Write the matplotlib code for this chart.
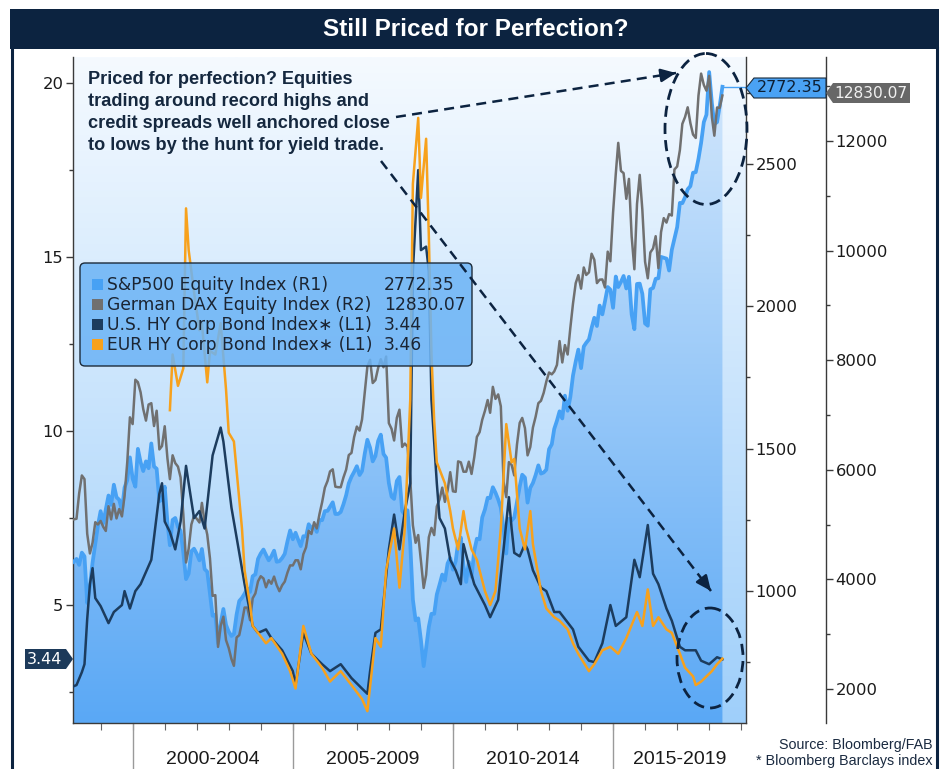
import matplotlib
matplotlib.use("Agg")
import matplotlib.pyplot as plt
import matplotlib.dates as mdates
import matplotlib.transforms as mtransforms
from matplotlib.patches import Polygon, Ellipse, FancyBboxPatch, Rectangle
from matplotlib.colors import LinearSegmentedColormap
import numpy as np
import pandas as pd

# ---------------- data ----------------
# monthly equity index levels, Mar 1998 .. Jun 2018
spx = [1102, 1112, 1091, 1134, 1121, 957, 1017, 1099, 1164, 1229,
       1280, 1238, 1286, 1335, 1302, 1373, 1329, 1320, 1283, 1363, 1389, 1469,
       1394, 1366, 1499, 1452, 1421, 1455, 1431, 1518, 1437, 1429, 1315, 1320,
       1366, 1240, 1160, 1249, 1256, 1224, 1211, 1134, 1041, 1060, 1139, 1148,
       1130, 1107, 1147, 1076, 1067, 990, 912, 916, 815, 886, 936, 880,
       856, 841, 848, 917, 964, 975, 990, 1008, 996, 1051, 1058, 1112,
       1131, 1145, 1126, 1107, 1121, 1141, 1102, 1104, 1115, 1130, 1174, 1212,
       1181, 1204, 1181, 1157, 1192, 1191, 1234, 1220, 1229, 1207, 1249, 1248,
       1280, 1281, 1295, 1311, 1270, 1270, 1277, 1304, 1336, 1378, 1401, 1418,
       1438, 1407, 1421, 1482, 1531, 1503, 1455, 1474, 1527, 1549, 1481, 1468,
       1379, 1331, 1323, 1386, 1400, 1280, 1267, 1283, 1165, 969, 896, 903,
       826, 735, 798, 873, 919, 919, 987, 1021, 1057, 1036, 1096, 1115,
       1074, 1104, 1169, 1187, 1089, 1031, 1102, 1049, 1141, 1183, 1181, 1258,
       1286, 1327, 1326, 1364, 1345, 1321, 1292, 1219, 1131, 1253, 1247, 1258,
       1312, 1366, 1408, 1398, 1310, 1362, 1379, 1407, 1441, 1412, 1416, 1426,
       1498, 1515, 1569, 1598, 1631, 1606, 1686, 1633, 1682, 1757, 1806, 1848,
       1783, 1859, 1872, 1884, 1924, 1960, 1931, 2003, 1972, 2018, 2068, 2059,
       1995, 2105, 2068, 2086, 2107, 2063, 2104, 1972, 1920, 2079, 2080, 2044,
       1940, 1932, 2060, 2065, 2097, 2099, 2174, 2171, 2168, 2126, 2199, 2239,
       2279, 2364, 2363, 2384, 2412, 2423, 2470, 2472, 2519, 2575, 2648, 2674,
       2824, 2714, 2641, 2648, 2705, 2772.35]

dax = [5096, 5107, 5567, 5897, 5830, 4834, 4474, 4669, 5044, 5002,
       5067, 4956, 4884, 5336, 5096, 5379, 5113, 5284, 5150, 5525, 6145, 6958,
       6835, 7644, 7599, 7414, 7109, 6898, 7191, 7216, 6799, 7078, 6372, 6434,
       6795, 6208, 5830, 6265, 6123, 6058, 5862, 5188, 4309, 4560, 5003, 5160,
       5108, 5039, 5397, 5042, 4818, 4383, 3700, 3713, 2769, 3153, 3320, 2893,
       2748, 2547, 2424, 2942, 2983, 3221, 3487, 3485, 3257, 3656, 3745, 3965,
       4058, 4018, 3856, 3985, 3921, 4052, 3895, 3785, 3893, 3960, 4126, 4256,
       4255, 4350, 4349, 4185, 4461, 4586, 4887, 4829, 5044, 4929, 5193, 5408,
       5674, 5797, 5970, 6009, 5692, 5683, 5682, 5859, 6004, 6269, 6309, 6597,
       6789, 6716, 6917, 7409, 7883, 8007, 7584, 7638, 7861, 8019, 7871, 8067,
       6852, 6748, 6535, 6949, 7097, 6418, 6479, 6422, 5831, 4988, 4669, 4810,
       4338, 3844, 4085, 4770, 4941, 4809, 5332, 5459, 5675, 5415, 5625, 5957,
       5608, 5598, 6154, 6136, 5965, 5966, 6148, 5925, 6229, 6601, 6688, 6914,
       7077, 7273, 7041, 7514, 7294, 7376, 7159, 5785, 5502, 6141, 6089, 5898,
       6459, 6856, 6947, 6761, 6264, 6416, 6772, 6970, 7216, 7260, 7406, 7612,
       7776, 7742, 7795, 7914, 8349, 7959, 8276, 8104, 8594, 9033, 9406, 9552,
       9306, 9692, 9556, 9603, 9943, 9833, 9407, 9470, 9474, 9327, 9981, 9806,
       10694, 11402, 11966, 11454, 11414, 10945, 11309, 10259, 9660, 10850, 11382, 10743,
       9798, 9495, 9966, 10039, 10263, 9680, 10337, 10593, 10511, 10665, 10640, 11481,
       11535, 11834, 12313, 12438, 12615, 12325, 12118, 12056, 12829, 13230, 13024, 12918,
       13189, 12436, 12097, 12612, 12605, 12830.07]

us_hy_dates = ["1998-02", "1998-04", "1998-06", "1998-07", "1998-08", "1998-09", "1998-10",
               "1998-11", "1999-01", "1999-04", "1999-06", "1999-09", "1999-10", "1999-12",
               "2000-02", "2000-04", "2000-08", "2000-11", "2000-12", "2001-01", "2001-03",
               "2001-05", "2001-07", "2001-09", "2001-10", "2001-12", "2002-02", "2002-04",
               "2002-07", "2002-10", "2002-11", "2003-02", "2003-05", "2003-07", "2003-10",
               "2003-12", "2004-03", "2004-05", "2004-09", "2005-01", "2005-02", "2005-05",
               "2005-08", "2005-12", "2006-03", "2006-07", "2006-11", "2007-03", "2007-05",
               "2007-06", "2007-08", "2007-10", "2008-01", "2008-03", "2008-05", "2008-07",
               "2008-09", "2008-10", "2008-12", "2009-01", "2009-03", "2009-04", "2009-05",
               "2009-07", "2009-08", "2009-10", "2009-12", "2010-02", "2010-04", "2010-05",
               "2010-07", "2010-09", "2011-01", "2011-03", "2011-06", "2011-08", "2011-10",
               "2011-11", "2011-12", "2012-02", "2012-04", "2012-05", "2012-07", "2012-10",
               "2012-12", "2013-03", "2013-05", "2013-08", "2013-10", "2013-12", "2014-04",
               "2014-06", "2014-09", "2014-12", "2015-02", "2015-06", "2015-09", "2015-11",
               "2016-02", "2016-04", "2016-06", "2016-09", "2016-11", "2017-02", "2017-04",
               "2017-08", "2017-10", "2018-01", "2018-04", "2018-06"]
us_hy = [2.64, 2.70, 3.07, 3.3, 4.6, 5.6, 6.06,
         5.2, 4.97, 4.48, 4.8, 5.0, 5.4, 4.9,
         5.4, 5.6, 6.3, 8.2, 8.5, 7.4, 7.1,
         6.6, 7.4, 9.0, 8.5, 7.5, 7.7, 7.2,
         9.3, 10.1, 9.7, 7.8, 6.5, 5.6, 4.4,
         4.2, 4.3, 4.05, 3.7, 3.1, 2.7, 4.2,
         3.6, 3.3, 3.1, 3.3, 2.9, 2.6, 2.45,
         3.1, 4.2, 4.3, 6.6, 7.6, 6.6, 7.7,
         8.5, 14.6, 17.5, 15.2, 15.3, 14.6, 10.9,
         8.5, 7.5, 7.2, 6.3, 6.0, 5.6, 6.75,
         6.15, 5.6, 5.0, 4.65, 5.15, 6.6, 8.1,
         7.2, 6.5, 6.4, 6.75, 6.6, 6.0, 5.5,
         5.4, 4.8, 4.8, 4.5, 4.3, 3.8, 3.4,
         3.36, 3.9, 5.0, 4.4, 4.65, 6.3, 5.8,
         7.3, 5.9, 5.6, 4.9, 4.55, 3.8, 3.7,
         3.7, 3.4, 3.3, 3.5, 3.44]

eur_hy_dates = ["2001-03", "2001-04", "2001-06", "2001-08", "2001-09", "2001-10", "2001-12",
                "2002-02", "2002-03", "2002-05", "2002-06", "2002-08", "2002-10", "2002-12",
                "2003-01", "2003-03", "2003-06", "2003-07", "2003-09", "2003-10", "2003-12",
                "2004-03", "2004-05", "2004-09", "2004-12", "2005-02", "2005-05", "2005-08",
                "2005-12", "2006-03", "2006-07", "2006-11", "2007-03", "2007-05", "2007-08",
                "2007-10", "2007-12", "2008-03", "2008-05", "2008-07", "2008-09", "2008-10",
                "2008-12", "2009-01", "2009-03", "2009-04", "2009-05", "2009-06", "2009-07",
                "2009-10", "2009-12", "2010-01", "2010-03", "2010-05", "2010-06", "2010-08",
                "2010-10", "2011-01", "2011-03", "2011-05", "2011-07", "2011-09", "2011-11",
                "2011-12", "2012-02", "2012-04", "2012-06", "2012-07", "2012-10", "2012-12",
                "2013-03", "2013-05", "2013-08", "2013-10", "2013-12", "2014-04", "2014-06",
                "2014-09", "2014-12", "2015-03", "2015-06", "2015-10", "2015-12", "2016-02",
                "2016-04", "2016-06", "2016-09", "2016-11", "2017-02", "2017-04", "2017-07",
                "2017-08", "2017-10", "2017-12", "2018-02", "2018-04", "2018-06"]
eur_hy = [10.6, 12.2, 11.3, 11.8, 16.4, 15.2, 14.0,
          12.9, 13.1, 11.4, 12.3, 12.2, 13.1, 11.2,
          9.95, 9.7, 7.2, 6.0, 5.0, 4.4, 4.2,
          3.9, 4.05, 3.6, 3.1, 2.6, 4.4, 3.6,
          3.2, 2.8, 3.1, 2.7, 2.3, 1.95, 4.05,
          3.8, 6.0, 7.2, 5.5, 7.2, 10.9, 17.1,
          19.0, 16.7, 18.4, 15.6, 12.2, 10.3, 9.1,
          8.5, 7.7, 7.2, 6.6, 7.7, 7.2, 6.6,
          6.3, 5.4, 5.0, 5.4, 7.2, 10.2, 9.1,
          9.2, 7.2, 6.6, 7.7, 6.75, 5.4, 4.9,
          4.65, 4.55, 4.3, 3.9, 3.6, 3.1, 3.3,
          3.7, 3.8, 3.6, 4.05, 4.8, 4.4, 5.45,
          4.4, 4.65, 4.3, 4.2, 3.6, 3.2, 2.95,
          2.7, 2.8, 2.95, 3.1, 3.3, 3.46]

legend_names = ["S&P500 Equity Index (R1)", "German DAX Equity Index (R2)",
                "U.S. HY Corp Bond Index\u2217 (L1)", "EUR HY Corp Bond Index\u2217 (L1)"]
legend_values = ["2772.35", "12830.07", "3.44", "3.46"]
period_labels = ["2000-2004", "2005-2009", "2010-2014", "2015-2019"]
period_starts = ["2000-01-01", "2005-01-01", "2010-01-01", "2015-01-01"]

# ---------------- styling ----------------
NAVY = "#0c2340"
C_SPX = "#47a1f4"
C_DAX = "#707070"
C_US = "#1c3c5e"
C_EUR = "#f7a11c"
NARROW = ["Liberation Sans Narrow", "Liberation Sans", "DejaVu Sans"]

eq_dates = pd.period_range("1998-03", "2018-06", freq="M").to_timestamp()
us_d = pd.PeriodIndex(us_hy_dates, freq="M").to_timestamp()
eur_d = pd.PeriodIndex(eur_hy_dates, freq="M").to_timestamp()

W, H = 942, 769
fig = plt.figure(figsize=(W / 100, H / 100), dpi=100)
fig.patch.set_facecolor("white")

L, R, T, B = 73, 746, 57, 723
ax = fig.add_axes([L / W, 1 - B / H, (R - L) / W, (B - T) / H])
ax_r1 = ax.twinx()
ax_r2 = ax.twinx()
ax_hy = ax.twinx()
ax_r2.spines["right"].set_position(("axes", 1 + 80 / (R - L)))

# series
ax_r1.plot(eq_dates, spx, color=C_SPX, lw=2.7, solid_joinstyle="round")
ax_r1.plot([eq_dates[-1], pd.Timestamp("2019-02-25")], [spx[-1], spx[-1]], color=C_SPX, lw=1)
ax_r2.plot(eq_dates, dax, color=C_DAX, lw=1.8)
ax_hy.plot(us_d, us_hy, color=C_US, lw=1.8)
ax_hy.plot(eur_d, eur_hy, color=C_EUR, lw=1.8)

# background + S&P mountain gradient
grad = np.linspace(0, 1, 256).reshape(-1, 1)
bg = LinearSegmentedColormap.from_list("bg", ["#9fcffa", "#f5faff"])
fl = LinearSegmentedColormap.from_list("fl", ["#5aa8f5", "#d6e9fc"])
ax.imshow(grad, extent=[0, 1, 0, 1], transform=ax.transAxes, cmap=bg,
          aspect="auto", origin="lower", zorder=0)
im = ax.imshow(grad, extent=[0, 1, 0, 1], transform=ax.transAxes, cmap=fl,
               aspect="auto", origin="lower", zorder=0.5)
poly = ax_r1.fill_between(eq_dates, spx, 0, facecolor="none", edgecolor="none")
im.set_clip_path(poly.get_paths()[0], transform=ax_r1.transData)

xl = (pd.Timestamp("1998-02-20"), pd.Timestamp("2019-02-25"))
for a in (ax, ax_r1, ax_r2, ax_hy):
    a.set_xlim(*xl)
ax.set_ylim(1.61, 20.75)
ax_hy.set_ylim(1.61, 20.75)
ax_r1.set_ylim(535, 2877)
ax_r2.set_ylim(1380, 13533)

# axes cosmetics
SP = "#3a3a3a"
for a in (ax, ax_r1, ax_r2, ax_hy):
    for s in a.spines.values():
        s.set_visible(False)
ax.spines["left"].set_visible(True)
ax.spines["bottom"].set_visible(True)
ax_r1.spines["right"].set_visible(True)
ax_r2.spines["right"].set_visible(True)
for s in (ax.spines["left"], ax.spines["bottom"], ax_r1.spines["right"], ax_r2.spines["right"]):
    s.set_color(SP)
    s.set_linewidth(1)

ax.set_yticks([5, 10, 15, 20])
ax.set_yticks([2.5, 7.5, 12.5, 17.5], minor=True)
ax_r1.set_yticks([1000, 1500, 2000, 2500])
ax_r1.set_yticks([750, 1250, 1750, 2250, 2750], minor=True)
ax_r2.set_yticks([2000, 4000, 6000, 8000, 10000, 12000])
ax_r2.set_yticks([3000, 5000, 7000, 9000, 11000, 13000], minor=True)
ax_hy.set_yticks([])
for a in (ax, ax_r1, ax_r2):
    a.tick_params(axis="y", which="major", direction="out", length=5, width=1,
                  color=SP, labelsize=11.8, labelcolor="#1a1a1a", pad=2)
    a.tick_params(axis="y", which="minor", direction="out", length=3, width=1, color=SP)

ax.xaxis.set_major_locator(mdates.YearLocator(1))
ax.xaxis.set_minor_locator(mdates.YearLocator(1))
ax.tick_params(axis="x", which="both", direction="out", length=5, width=0.8,
               color="#666666", labelbottom=False)

# period separators and labels under the axis
blend = mtransforms.blended_transform_factory(ax.transData, ax.transAxes)
for d in period_starts:
    x = mdates.date2num(pd.Timestamp(d))
    ax.plot([x, x], [0, -0.07], transform=blend, clip_on=False, color="#9a9a9a", lw=1)
lab_x = [mdates.date2num(pd.Timestamp(d)) + 365.25 * 2.5 for d in period_starts[:3]]
lab_x.append((mdates.date2num(pd.Timestamp(period_starts[3])) + mdates.date2num(xl[1])) / 2)
for x, t in zip(lab_x, period_labels):
    ax.text(x, -0.055, t, transform=blend, ha="center", va="center",
            fontsize=14, family=NARROW, color="#1a1a1a")

# ---------------- overlay decorations (pixel coords) ----------------
ov = fig.add_axes([0, 0, 1, 1], zorder=10)
ov.set_xlim(0, W)
ov.set_ylim(H, 0)
ov.axis("off")
ov.patch.set_visible(False)

ov.add_patch(Rectangle((10, 9), 929, 40, facecolor=NAVY, edgecolor="none"))
ov.plot([12, 12], [48, H], color=NAVY, lw=2.2)
ov.plot([937, 937], [48, H], color=NAVY, lw=2.2)
ov.text(476, 29, "Still Priced for Perfection?", color="white", fontsize=17.5,
        fontweight="bold", family=NARROW, ha="center", va="center")

# annotation text
note = ["Priced for perfection? Equities", "trading around record highs and",
        "credit spreads well anchored close", "to lows by the hunt for yield trade."]
for i, line in enumerate(note):
    ov.text(88, 80 + 22 * i, line, fontsize=13.1, fontweight="bold",
            family=["Liberation Sans", "DejaVu Sans"], color="#15283f", va="center")

# legend box
ov.add_patch(FancyBboxPatch((80, 263), 392, 103, boxstyle="round,pad=0,rounding_size=5",
                            facecolor=(0.42, 0.70, 0.96, 0.85), edgecolor="#1c2b3a", lw=1))
for i, (nm, val, c) in enumerate(zip(legend_names, legend_values, [C_SPX, C_DAX, C_US, C_EUR])):
    yy = 285 + 20 * i
    ov.add_patch(Rectangle((92, yy - 6), 11, 11, facecolor=c, edgecolor="none"))
    ov.text(107, yy, nm, fontsize=12.3, color="#1b2533", va="center")
    ov.text(384, yy, val, fontsize=12.3, color="#1b2533", va="center")

# dashed circles and arrows
ov.add_patch(Ellipse((706, 129), 82, 151, fill=False, ls=(0, (4, 2.2)), ec=NAVY, lw=2))
ov.add_patch(Ellipse((710, 658), 66, 100, fill=False, ls=(0, (4, 2.2)), ec=NAVY, lw=2))


def dashed_arrow(x0, y0, x1, y1):
    ov.plot([x0, x1], [y0, y1], ls=(0, (4, 2.5)), color=NAVY, lw=1.8)
    v = np.array([x1 - x0, y1 - y0], float)
    v /= np.hypot(*v)
    ov.annotate("", xy=(x1, y1), xytext=(x1 - 14 * v[0], y1 - 14 * v[1]),
                arrowprops=dict(arrowstyle="-|>,head_length=0.9,head_width=0.4",
                                color=NAVY, lw=1.8, shrinkA=0, shrinkB=0))


dashed_arrow(396, 117, 676, 73)
dashed_arrow(381, 161, 711, 591)

# value tags
ov.add_patch(Polygon([(746, 88), (754, 78), (826, 78), (826, 98), (754, 98)], closed=True,
                     facecolor="#4aa2f4", edgecolor="#1c2b3a", lw=0.8))
ov.text(790, 88, "2772.35", fontsize=11.5, color="#0d1f33", ha="center", va="center")
ov.add_patch(Polygon([(826, 93), (833, 83), (910, 83), (910, 103), (833, 103)], closed=True,
                     facecolor="#676767", edgecolor="none"))
ov.text(871, 93, "12830.07", fontsize=11.2, color="#f0f0f0", ha="center", va="center")
ov.add_patch(Polygon([(73, 659), (66, 649), (25, 649), (25, 669), (66, 669)], closed=True,
                     facecolor="#1d3a5a", edgecolor="none"))
ov.text(45, 659, "3.44", fontsize=11.5, color="white", ha="center", va="center")

# source
ov.text(933, 745, "Source: Bloomberg/FAB", fontsize=10.3, family=NARROW,
        color="#1a2a40", ha="right", va="center")
ov.text(933, 761, "* Bloomberg Barclays index", fontsize=10.3, family=NARROW,
        color="#1a2a40", ha="right", va="center")

fig.savefig("out.png", dpi=100)
